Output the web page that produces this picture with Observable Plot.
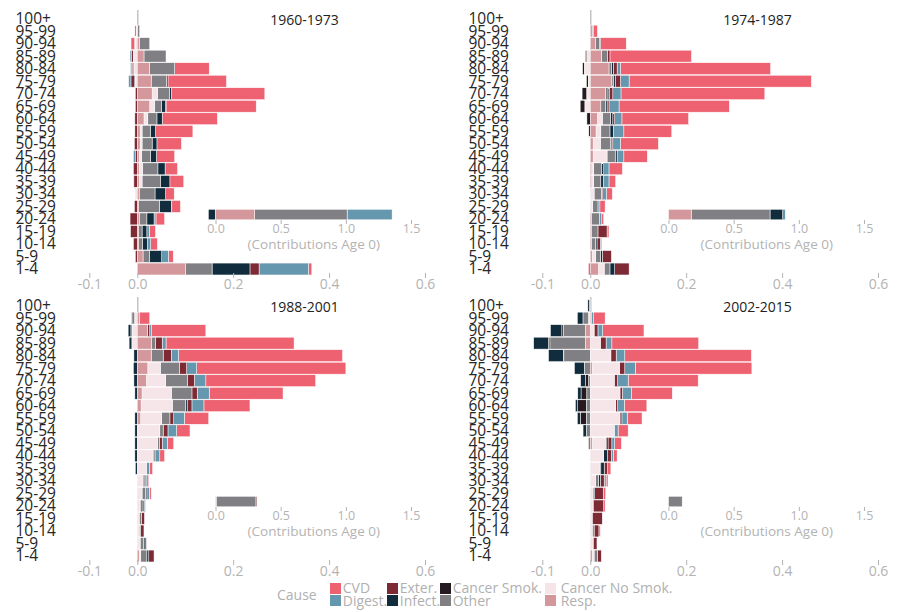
<!DOCTYPE html>
<html><head><meta charset="utf-8">
<script src="https://cdn.jsdelivr.net/npm/d3@7"></script>
<script src="https://cdn.jsdelivr.net/npm/@observablehq/plot@0.6"></script>
<style>
body{margin:0;background:#fff;font-family:"Open Sans",Lato,sans-serif;}
#wrap{position:relative;width:898px;height:612px;overflow:hidden;background:#fff;}
.layer{position:absolute;}
#legend{position:absolute;left:277px;top:582px;font-size:14px;color:#b0b0b0;display:flex;align-items:center;}
#legend .ttl{margin-right:13px;}
#legend .grid{display:grid;grid-auto-flow:column;grid-template-rows:12.4px 12.4px;grid-template-columns:57px 53px 105px auto;}
#legend .it{display:flex;align-items:center;line-height:12px;height:12.4px;white-space:nowrap;}
#legend .sw{width:11px;height:11px;margin-right:2px;flex:none;}
#legend .it.wide .sw{margin-right:5px;}
</style></head>
<body><div id="wrap"></div>
<script>
// Age groups, top to bottom
const ages = ["100+","95-99","90-94","85-89","80-84","75-79","70-74","65-69","60-64","55-59","50-54","45-49","40-44","35-39","30-34","25-29","20-24","15-19","10-14","5-9","1-4"];
const causes = ["CVD","Digest.","Exter.","Infect.","Cancer Smok.","Other","Cancer No Smok.","Resp."];
const causeColors = ["#ee6170","#6597ae","#7d2a35","#102c3d","#241a1f","#808084","#f6e5e8","#d4979b"];
const stackOrder = ["Resp.","Cancer No Smok.","Other","Cancer Smok.","Infect.","Exter.","Digest.","CVD"];
const periods = ["1960-1973","1974-1987","1988-2001","2002-2015"];
const xTicks = [-0.1, 0.0, 0.2, 0.4, 0.6];
const insetTicks = [0, 0.5, 1.0, 1.5];
const insetLabel = "(Contributions Age 0)";

// 1960-1973 (values per age group, top to bottom)
const cvd60    = [0,-0.003,-0.008,0,0.072,0.122,0.195,0.188,0.115,0.078,0.051,0.038,0.026,0.029,0.018,0.018,0.018,0.013,0.014,0.010,0.007];
const digest60 = [0,0,-0.001,-0.003,-0.003,-0.005,0,0.001,0,0,0,-0.004,0,-0.001,0,0.001,0.004,0.005,0.007,0.014,0.103];
const exter60  = [0,0,0,-0.004,-0.002,-0.007,-0.004,-0.004,-0.005,-0.005,-0.006,-0.004,-0.008,-0.007,-0.001,-0.006,-0.015,-0.014,-0.008,-0.004,0.019];
const infect60 = [0,0,0,0,0,0.003,0.004,0.008,0.011,0.011,0.010,0.012,0.015,0.019,0.022,0.025,0.015,0.010,0.010,0.025,0.079];
const csmok60  = [0,0,0,0,-0.002,-0.002,0,0,0,0,0,0,0,0,0,0,0,0,0,0,0];
const other60  = [0,0.005,0.021,0.046,0.053,0.032,0.025,0.015,0.019,0.017,0.021,0.019,0.032,0.039,0.033,0.043,0.015,0.007,0.008,0.014,0.055];
const cnsmok60 = [0,-0.002,-0.004,-0.008,-0.007,-0.004,0.011,0.010,0.008,0.004,0.004,0.005,0.007,0.006,-0.003,0,0,0,0,0,0];
const resp60   = [0,0,0.005,0.014,0.025,0.029,0.031,0.026,0.014,0.006,0.006,0.004,0.004,0.004,0.004,0.003,0.005,0.003,0.003,0.012,0.101];

// 1974-1987
const cvd74    = [0,0.009,0.054,0.170,0.313,0.380,0.300,0.230,0.139,0.100,0.079,0.049,0.028,0.014,0.012,0.011,0.004,0.004,0,0,-0.004];
const digest74 = [0,0,0,0,0.007,0.018,0.017,0.021,0.015,0.022,0.016,0.014,0.011,0.012,0.008,0.004,0.005,0,0.003,0,0];
const exter74  = [0,0,0,0.005,0.008,0.011,0.007,0.004,0.004,0,0.002,0,0,0,0.003,0,0,0.019,0.007,0.019,0.030];
const infect74 = [0,0,0.002,0,0.004,0.004,0.003,0.003,0.005,0.007,0.003,0.004,0.004,0.005,0,0,0,0,0.003,0.004,0.010];
const csmok74  = [0,0,0,-0.003,-0.004,-0.004,-0.010,-0.010,-0.007,-0.003,0,0,0,0,0,0,0,0,0,0,0];
const other74  = [0,0.002,0.008,0.013,0.005,0.003,0.005,0.010,0.017,0.019,0.021,0.017,0.017,0.015,0.015,0.011,0.016,0.013,0.008,0.010,0.012];
const cnsmok74 = [0,0,0,-0.007,-0.012,-0.004,-0.007,-0.011,0.010,0.010,0.015,0.029,0.004,0.004,0.008,0.005,0,0,0,0.007,0.012];
const resp74   = [0,0.004,0.011,0.023,0.039,0.045,0.032,0.022,0.015,0.012,0.006,0.006,0.003,0.003,0,0,0.003,0.003,0.003,0.004,0.017];

// 1988-2001
const cvd88    = [0,0.021,0.114,0.267,0.342,0.311,0.229,0.154,0.096,0.051,0.028,0.013,0.010,0.007,0.004,0.004,0,0,0,0,0];
const digest88 = [0,0,0.003,0.008,0.015,0.021,0.024,0.025,0.025,0.022,0.018,0.011,0.010,0.006,0.004,0.005,0.002,0,0,0,0];
const exter88  = [0,0,0.005,0.014,0.017,0.015,0.014,0.011,0.010,0.008,0.010,0.006,0,0,0,0,0,0.006,0.007,0.003,0.011];
const infect88 = [0,-0.001,-0.006,-0.006,-0.007,-0.008,-0.007,-0.005,0.003,-0.005,-0.005,-0.005,-0.005,-0.004,0,0.003,0.003,0,0,0.003,0.004];
const csmok88  = [0,0,0,0,0,0,0,0,0,0,0,0,0,0,0,0,0,0,0,0,0];
const other88  = [0,-0.006,-0.003,0.008,0.025,0.040,0.046,0.043,0.028,0.017,0.007,0.004,0.004,0,0.004,0.007,0.006,0.005,0.003,0.007,0.013];
const cnsmok88 = [0,-0.005,-0.010,-0.011,0,0.026,0.040,0.061,0.065,0.044,0.047,0.042,0.033,0.019,0.012,0.010,0.006,0.004,0.004,0.006,0.003];
const resp88   = [0,0.005,0.021,0.030,0.029,0.022,0.019,0.010,0.008,0.007,0,0,0,0,0,0,0,0,0,0,0.004];

// 2002-2015
const cvd02    = [0,0.024,0.086,0.181,0.264,0.243,0.146,0.085,0.047,0.031,0.021,0.014,0.008,0.007,0.004,0.005,0.003,0,0.003,0,0];
const digest02 = [0,0.004,0.010,0.012,0.018,0.022,0.022,0.019,0.014,0.011,0.008,0.006,0.004,0,0.004,0,0,0,0,0,0];
const exter02  = [0,0,0.008,0.012,0.011,0.011,0.007,0.005,0.004,0.004,0,0.008,0.008,0.007,0.008,0.018,0.022,0.021,0.010,0.008,0.008];
const infect02 = [-0.004,-0.012,-0.024,-0.031,-0.031,-0.021,-0.010,-0.007,-0.004,-0.007,-0.007,0,0.008,0.007,0.004,0.003,0,0,0,0,0];
const csmok02  = [0,0,-0.003,-0.003,-0.001,0,-0.007,-0.012,-0.019,-0.012,0,0.004,0,0,0,0,0,0,0,0,0];
const other02  = [-0.001,-0.012,-0.046,-0.074,-0.055,-0.012,-0.003,-0.007,-0.008,-0.008,-0.008,-0.004,0,0.003,0.006,0,0,0,0.004,0,0.007];
const cnsmok02 = [0,-0.003,0.008,0.021,0.043,0.057,0.050,0.062,0.053,0.062,0.050,0.029,0.028,0.019,0.011,0.006,0.006,0.004,0.004,0.006,0.004];
const resp02   = [0,0.003,-0.010,-0.010,0,0.004,0,0,0,0,0,0.004,0,0,0,0,0,0,0,0,0.004];

// Age 0 contributions (in causes order: CVD, Digest., Exter., Infect., Cancer Smok., Other, Cancer No Smok., Resp.)
const age0_60 = [0,0.345,0,-0.055,0,0.71,0,0.30];
const age0_74 = [0,0.02,0,0.097,0,0.605,0,0.174];
const age0_88 = [0,0,0.008,0,0,0.305,0,0.005];
const age0_02 = [0,0,0,0,0,0.105,0,0];

const periodSeries = [
  [cvd60,digest60,exter60,infect60,csmok60,other60,cnsmok60,resp60],
  [cvd74,digest74,exter74,infect74,csmok74,other74,cnsmok74,resp74],
  [cvd88,digest88,exter88,infect88,csmok88,other88,cnsmok88,resp88],
  [cvd02,digest02,exter02,infect02,csmok02,other02,cnsmok02,resp02]
];
const periodAge0 = [age0_60, age0_74, age0_88, age0_02];

const panelLeft = [0, 452.5, 0, 452.5];
const panelTop = [0, 0, 286.7, 286.7];
const W = 449, H = 287;
const fmt = d => d.toFixed(1);
const colorOpt = {domain: causes, range: causeColors};
const FONT = "'Open Sans', Lato, sans-serif";

const wrap = document.getElementById("wrap");

periods.forEach((period, p) => {
  const rows = [];
  periodSeries[p].forEach((vals, c) => {
    vals.forEach((v, a) => { if (v !== 0) rows.push({age: ages[a], cause: causes[c], value: v}); });
  });
  const main = Plot.plot({
    width: W, height: H,
    marginTop: 10, marginBottom: 14, marginLeft: 18, marginRight: 0,
    style: {fontFamily: FONT, fontSize: "14px", color: "#b3b3b3", background: "transparent", overflow: "visible"},
    x: {domain: [-0.1, 0.6], range: [89.3, 425]},
    y: {domain: ages, range: [12, 275.6], padding: 0.05, round: false, axis: null},
    color: colorOpt,
    marks: [
      Plot.ruleX([0], {stroke: "#c4c4c4", strokeWidth: 1.5}),
      Plot.barX(rows, Plot.stackX({x: "value", y: "age", fill: "cause", order: stackOrder, stroke: "white", strokeWidth: 0.5})),
      Plot.axisX({ticks: xTicks, tickFormat: fmt, tickSize: 5, tickPadding: 1, fontSize: 14, label: null}),
      Plot.text(ages, {y: d => d, frameAnchor: "left", dx: -3, textAnchor: "start", fill: "#262626", fontSize: 15.5}),
      Plot.text([period], {frameAnchor: "top", dx: 70.5, dy: 10.5, lineAnchor: "middle", fontSize: 14, fill: "#222"})
    ]
  });
  main.classList.add("layer");
  main.style.left = panelLeft[p] + "px";
  main.style.top = panelTop[p] + "px";
  wrap.appendChild(main);

  const inRows = [];
  periodAge0[p].forEach((v, c) => { if (v !== 0) inRows.push({g: "0", cause: causes[c], value: v}); });
  const inset = Plot.plot({
    width: W, height: H,
    marginTop: 0, marginLeft: 0, marginRight: 0, marginBottom: H - 220,
    style: {fontFamily: FONT, fontSize: "12.5px", color: "#b3b3b3", background: "transparent", overflow: "visible"},
    x: {domain: [0, 1.5], range: [215.5, 411]},
    y: {domain: ["0"], range: [209.3, 219.8], padding: 0, round: false, axis: null},
    color: colorOpt,
    marks: [
      Plot.barX(inRows, Plot.stackX({x: "value", y: "g", fill: "cause", order: stackOrder, stroke: "white", strokeWidth: 0.5})),
      Plot.axisX({ticks: insetTicks, tickFormat: fmt, tickSize: 4, tickPadding: 0, fontSize: 12.5, label: null}),
      Plot.text([insetLabel], {x: () => 0.75, frameAnchor: "bottom", dy: 24.5, lineAnchor: "middle", fontSize: 13.5, fill: "#b3b3b3"})
    ]
  });
  inset.classList.add("layer");
  inset.style.left = panelLeft[p] + "px";
  inset.style.top = panelTop[p] + "px";
  inset.style.pointerEvents = "none";
  wrap.appendChild(inset);
});

// Legend
const leg = document.createElement("div");
leg.id = "legend";
const ttl = document.createElement("span");
ttl.className = "ttl"; ttl.textContent = "Cause";
leg.appendChild(ttl);
const grid = document.createElement("div");
grid.className = "grid";
causes.forEach((c, i) => {
  const it = document.createElement("div"); it.className = "it" + (i >= 6 ? " wide" : "");
  const sw = document.createElement("span"); sw.className = "sw"; sw.style.background = causeColors[i];
  const tx = document.createElement("span"); tx.textContent = c;
  it.appendChild(sw); it.appendChild(tx); grid.appendChild(it);
});
leg.appendChild(grid);
wrap.appendChild(leg);
</script>
</body></html>
